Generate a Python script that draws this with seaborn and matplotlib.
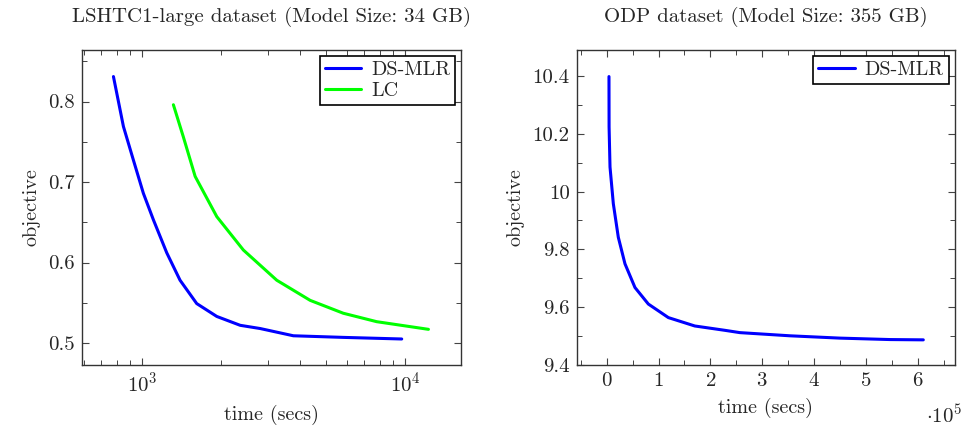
import matplotlib
matplotlib.use("Agg")
import matplotlib.pyplot as plt
import matplotlib.ticker as mticker
import seaborn as sns
import pandas as pd

# LSHTC1-large: time (secs) vs objective
lshtc_dsmlr_time = [778, 849, 927, 1011, 1104, 1241, 1394, 1613, 1923, 2360, 2811, 3760, 5820, 9710]
lshtc_dsmlr_obj = [0.831, 0.769, 0.727, 0.686, 0.653, 0.612, 0.578, 0.549, 0.533, 0.522, 0.518,
                   0.509, 0.507, 0.505]
lshtc_lc_time = [1315, 1435, 1591, 1923, 2427, 3251, 4355, 5820, 7800, 12270]
lshtc_lc_obj = [0.796, 0.756, 0.707, 0.657, 0.6155, 0.578, 0.553, 0.537, 0.5265, 0.517]

# ODP: time in units of 1e5 secs
odp_time = [0.044, 0.046, 0.064, 0.128, 0.224, 0.353, 0.546, 0.803, 1.19, 1.70, 2.28, 2.57,
            3.54, 4.50, 5.47, 6.11]
odp_obj = [10.398, 10.224, 10.085, 9.958, 9.842, 9.750, 9.668, 9.611, 9.564, 9.535, 9.520,
           9.512, 9.501, 9.493, 9.488, 9.487]

sns.set_style("ticks")
plt.rcParams["font.family"] = ["cmr10", "DejaVu Serif"]
plt.rcParams["mathtext.fontset"] = "cm"
plt.rcParams["axes.formatter.use_mathtext"] = True
plt.rcParams["font.size"] = 15

df_left = pd.concat([
    pd.DataFrame({"time": lshtc_dsmlr_time, "objective": lshtc_dsmlr_obj, "method": "DS-MLR"}),
    pd.DataFrame({"time": lshtc_lc_time, "objective": lshtc_lc_obj, "method": "LC"}),
])
df_right = pd.DataFrame({"time": odp_time, "objective": odp_obj, "method": "DS-MLR"})

fig = plt.figure(figsize=(9.63, 4.34), dpi=100)
ax1 = fig.add_axes([0.0852, 0.159, 0.3936, 0.7258])
ax2 = fig.add_axes([0.5988, 0.159, 0.3928, 0.7258])

palette = {"DS-MLR": "#0000ff", "LC": "#00ff00"}

sns.lineplot(data=df_left, x="time", y="objective", hue="method", palette=palette,
             linewidth=2.2, ax=ax1, sort=False, estimator=None)
sns.lineplot(data=df_right, x="time", y="objective", hue="method", palette=palette,
             linewidth=2.2, ax=ax2, sort=False, estimator=None)

ax1.set_xscale("log")
ax1.set_xlim(591, 16330)
ax1.set_ylim(0.4727, 0.864)
ax1.set_yticks([0.5, 0.6, 0.7, 0.8])
ax1.yaxis.set_minor_locator(mticker.MultipleLocator(0.05))
ax1.xaxis.set_minor_locator(mticker.LogLocator(base=10, subs=[2, 3, 4, 5, 6, 7, 8, 9], numticks=20))
ax1.xaxis.set_minor_formatter(mticker.NullFormatter())
ax1.yaxis.set_major_formatter(mticker.FuncFormatter(lambda v, p: f"{v:g}"))
ax1.set_title("LSHTC1-large dataset (Model Size: 34 GB)", fontsize=15, pad=20)

ax2.set_xlim(-0.58, 6.72)
ax2.set_ylim(9.4, 10.49)
ax2.set_xticks(range(0, 7))
ax2.xaxis.set_minor_locator(mticker.MultipleLocator(0.5))
ax2.set_yticks([9.4, 9.6, 9.8, 10.0, 10.2, 10.4])
ax2.yaxis.set_minor_locator(mticker.MultipleLocator(0.1))
ax2.yaxis.set_major_formatter(mticker.FuncFormatter(lambda v, p: f"{v:g}"))
ax2.set_title("ODP dataset (Model Size: 355 GB)", fontsize=15, pad=20)
ax2.text(1.02, -0.125, r"$\cdot10^5$", transform=ax2.transAxes, ha="right", va="top", fontsize=15)

for ax in (ax1, ax2):
    ax.set_xlabel("time (secs)", fontsize=14.5, labelpad=6)
    ax.set_ylabel("objective", fontsize=14.5, labelpad=6)
    ax.tick_params(which="both", direction="in", top=True, right=True, bottom=True, left=True,
                   color="#444444", labelsize=15)
    ax.tick_params(which="major", length=5, width=0.8, pad=5)
    ax.tick_params(which="minor", length=3.5, width=0.7)
    for s in ax.spines.values():
        s.set_color("#333333")
        s.set_linewidth(1.0)
    leg = ax.legend(loc="upper right", frameon=True, fancybox=False, edgecolor="black",
                    framealpha=1, borderaxespad=0.3, handlelength=1.8, fontsize=14.5,
                    borderpad=0.25, labelspacing=0.15, handletextpad=0.5)
    leg.get_frame().set_linewidth(1.2)

fig.savefig("out.png", dpi=100)
